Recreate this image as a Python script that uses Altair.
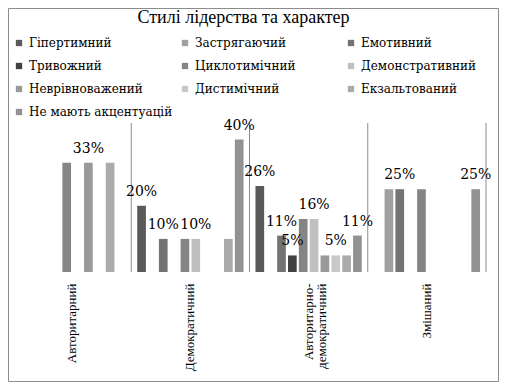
import altair as alt
import pandas as pd

styles = ["Авторитарний", "Демократичний", "Авторитарно-демократичний", "Змішаний"]
types = ["Гіпертимний", "Застрягаючий", "Емотивний", "Тривожний", "Циклотимічний",
         "Демонстративний", "Неврівноважений", "Дистимічний", "Екзальтований",
         "Не мають акцентуацій"]
colors = ["#595959", "#a0a0a0", "#737373", "#404040", "#858585",
          "#c0c0c0", "#9a9a9a", "#c9c9c9", "#ababab", "#929292"]

# percentages per leadership style, in the order of `types`
v_avt = [0, 0, 0, 0, 33, 0, 33, 0, 33, 0]
v_dem = [20, 0, 10, 0, 10, 10, 0, 0, 10, 40]
v_avtdem = [26, 0, 11, 5, 16, 16, 5, 5, 5, 11]
v_zm = [0, 25, 25, 0, 25, 0, 0, 0, 0, 25]

# which bars carry a visible data label
l_avt = [0, 0, 0, 0, 0, 0, 1, 0, 0, 0]
l_dem = [1, 0, 1, 0, 0, 1, 0, 0, 0, 1]
l_avtdem = [1, 0, 1, 1, 0, 1, 0, 1, 0, 1]
l_zm = [0, 0, 1, 0, 0, 0, 0, 0, 0, 1]

rows = []
for s, vals, labs in zip(styles, [v_avt, v_dem, v_avtdem, v_zm], [l_avt, l_dem, l_avtdem, l_zm]):
    for t, v, l in zip(types, vals, labs):
        if v > 0:
            rows.append({"style": s, "type": t, "value": v, "lab": l, "label": f"{v}%"})
df = pd.DataFrame(rows)

SERIF = "serif"
DSERIF = "DejaVu Serif"

x_enc = alt.X("style:N", sort=styles,
              scale=alt.Scale(domain=styles, paddingInner=0, paddingOuter=0),
              axis=alt.Axis(title=None, labelAngle=-90, domain=False, ticks=False,
                            labelPadding=11, labelFont=SERIF, labelFontSize=13,
                            labelColor="#000000", labelLineHeight=13,
                            labelExpr="datum.label == 'Авторитарно-демократичний' ? ['Авторитарно-', 'демократичний'] : datum.label"))
xo_enc = alt.XOffset("type:N", sort=types,
                     scale=alt.Scale(domain=types, paddingInner=0.2, paddingOuter=0.55))
y_enc = alt.Y("value:Q", scale=alt.Scale(domain=[0, 45]), axis=None)

frame = alt.Chart(pd.DataFrame({"k": [0]})).mark_rect(
    fill=None, stroke="#8c8c8c", strokeWidth=1, clip=False
).encode(x=alt.value(-4.5), x2=alt.value(485.5), y=alt.value(-114.5), y2=alt.value(258.5))

bars = alt.Chart(df).mark_bar().encode(
    x=x_enc,
    xOffset=xo_enc,
    y=y_enc,
    color=alt.Color("type:N", sort=types,
                    scale=alt.Scale(domain=types, range=colors),
                    legend=alt.Legend(title=None, orient="none", legendX=0, legendY=-86,
                                      direction="horizontal",
                                      columns=3, gridAlign="all", symbolType="square",
                                      symbolSize=40, symbolStrokeWidth=0, labelFont=DSERIF,
                                      labelFontSize=12, labelColor="#000000", rowPadding=11,
                                      columnPadding=6, labelOffset=4, padding=0,
                                      labelLimit=300)),
)

text = alt.Chart(df).transform_filter("datum.lab == 1").mark_text(
    baseline="alphabetic", dy=-10, font=DSERIF, fontSize=14, color="#000000"
).encode(x=x_enc, xOffset=xo_enc, y=y_enc, text="label:N")

seps = alt.Chart(pd.DataFrame({"style": styles})).mark_rule(color="#8c8c8c", strokeWidth=1).encode(
    x=alt.X("style:N", sort=styles, bandPosition=1)
)

chart = alt.layer(frame, seps, bars, text).properties(
    width=473, height=149,
    title=alt.Title("Стилі лідерства та характер", font=SERIF, fontSize=18,
                    fontWeight="normal", color="#000000", offset=5, dx=-6, dy=24),
    autosize=alt.AutoSizeParams(type="none"),
    padding={"left": 5, "top": 115, "right": 13, "bottom": 110},
).configure_view(stroke=None)

chart.save("out.html", embed_options={"renderer": "svg", "actions": False})
